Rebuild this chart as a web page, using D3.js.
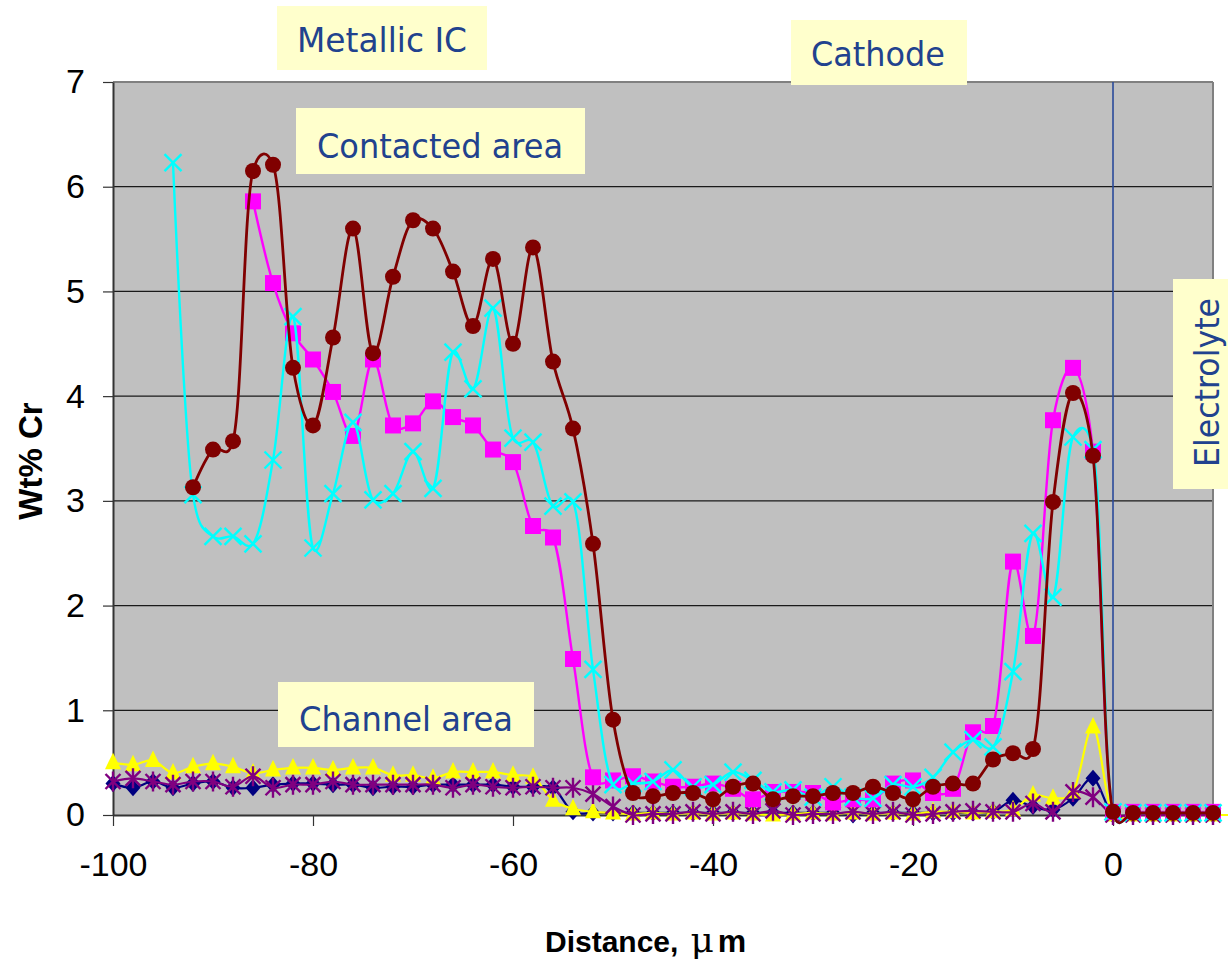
<!DOCTYPE html>
<html>
<head>
<meta charset="utf-8">
<script src="https://cdn.jsdelivr.net/npm/d3@7"></script>
<style>
  body { margin: 0; background: #fff; }
  svg { display: block; }
</style>
</head>
<body>
<svg id="chart" width="1228" height="965"></svg>
<script>
// distance in micrometres, one sample every 2 um
const distance = [-100, -98, -96, -94, -92, -90, -88, -86, -84, -82, -80, -78, -76, -74, -72, -70,
  -68, -66, -64, -62, -60, -58, -56, -54, -52, -50, -48, -46, -44, -42, -40, -38, -36, -34, -32,
  -30, -28, -26, -24, -22, -20, -18, -16, -14, -12, -10, -8, -6, -4, -2, 0, 2, 4, 6, 8, 10, 12];

// channel area series
const navy = [0.30, 0.26, 0.32, 0.26, 0.30, 0.32, 0.26, 0.26, 0.29, 0.30, 0.30, 0.29, 0.29, 0.26, 0.27, 0.27,
  0.29, 0.29, 0.29, 0.29, 0.27, 0.27, 0.26, 0.03, 0.02, 0.02, 0.02, 0.02, 0.02, 0.02, 0.02, 0.02, 0.02, 0.02, 0.02,
  0.02, 0.02, 0.00, 0.02, 0.02, 0.02, 0.02, 0.02, 0.02, 0.03, 0.14, 0.08, 0.05, 0.16, 0.35, 0.00, 0.00, 0.00, 0.00, 0.00, 0.00, null];
const yellow = [0.50, 0.48, 0.52, 0.40, 0.46, 0.49, 0.46, 0.40, 0.43, 0.45, 0.45, 0.43, 0.45, 0.45, 0.38, 0.38,
  0.35, 0.41, 0.41, 0.41, 0.38, 0.36, 0.14, 0.06, 0.03, 0.02, 0.01, 0.02, 0.01, 0.02, 0.01, 0.02, 0.01, 0.00, 0.01,
  0.02, 0.01, 0.02, 0.01, 0.02, 0.01, 0.03, 0.03, 0.02, 0.03, 0.05, 0.19, 0.16, 0.22, 0.84, 0.00, 0.00, 0.00, 0.00, 0.00, 0.00, 0.00];
const purple = [0.32, 0.35, 0.32, 0.29, 0.32, 0.32, 0.27, 0.37, 0.26, 0.29, 0.29, 0.32, 0.29, 0.29, 0.29, 0.29,
  0.29, 0.26, 0.29, 0.27, 0.26, 0.27, 0.26, 0.26, 0.20, 0.08, 0.00, 0.01, 0.01, 0.03, 0.01, 0.03, 0.01, 0.04, 0.00,
  0.01, 0.01, 0.03, 0.01, 0.03, 0.00, 0.01, 0.03, 0.04, 0.03, 0.03, 0.11, 0.03, 0.22, 0.17, 0.00, 0.00, 0.00, 0.00, 0.00, 0.00, null];

// contacted area series
const magenta = [null, null, null, null, null, null, null, 5.86, 5.08, 4.60, 4.35, 4.04, 3.62, 4.35, 3.72, 3.74,
  3.95, 3.80, 3.72, 3.49, 3.37, 2.76, 2.65, 1.49, 0.36, 0.33, 0.37, 0.32, 0.27, 0.27, 0.30, 0.25, 0.15, 0.22, 0.22,
  0.21, 0.12, 0.15, 0.15, 0.30, 0.33, 0.21, 0.25, 0.79, 0.85, 2.42, 1.71, 3.77, 4.27, 3.47, 0.03, 0.03, 0.03, 0.03, 0.03, 0.03, null];
const cyan = [null, null, null, 6.23, 3.06, 2.66, 2.66, 2.59, 3.39, 4.76, 2.55, 3.07, 3.75, 3.01, 3.07, 3.47,
  3.12, 4.42, 4.07, 4.84, 3.60, 3.56, 2.95, 2.99, 1.39, 0.29, 0.30, 0.32, 0.43, 0.27, 0.29, 0.41, 0.33, 0.22, 0.24,
  0.17, 0.27, 0.17, 0.16, 0.29, 0.27, 0.36, 0.60, 0.72, 0.65, 1.37, 2.69, 2.08, 3.61, 3.49, 0.03, 0.02, 0.02, 0.02, 0.02, 0.02, null];
const maroon = [null, null, null, null, 3.13, 3.49, 3.57, 6.15, 6.21, 4.27, 3.72, 4.56, 5.60, 4.41, 5.14, 5.68,
  5.60, 5.19, 4.67, 5.31, 4.50, 5.42, 4.33, 3.69, 2.59, 0.91, 0.21, 0.18, 0.21, 0.21, 0.15, 0.27, 0.30, 0.15, 0.18,
  0.18, 0.21, 0.21, 0.27, 0.21, 0.15, 0.27, 0.30, 0.30, 0.53, 0.59, 0.63, 2.99, 4.03, 3.43, 0.03, 0.02, 0.02, 0.02, 0.02, 0.02, null];

const xTicks = [-100, -80, -60, -40, -20, 0];
const yTicks = [0, 1, 2, 3, 4, 5, 6, 7];

const svg = d3.select("#chart");
const margin = { top: 82, right: 15, bottom: 150, left: 113 };
const width = 1228 - margin.left - margin.right;
const height = 965 - margin.top - margin.bottom;

const x = d3.scaleLinear().domain([-100, 10]).range([0, width]);
const y = d3.scaleLinear().domain([0, 7]).range([height, 0]);

const g = svg.append("g").attr("transform", `translate(${margin.left},${margin.top})`);

// plot area
g.append("rect").attr("width", width).attr("height", height).attr("fill", "#c0c0c0");

// gridlines
g.append("g").selectAll("line").data(yTicks.filter(d => d > 0 && d < 7)).join("line")
  .attr("x1", 0).attr("x2", width)
  .attr("y1", d => y(d)).attr("y2", d => y(d))
  .attr("stroke", "#1a1a1a").attr("stroke-width", 1.2);

// border top / right
g.append("line").attr("x1", 0).attr("x2", width).attr("y1", 0).attr("y2", 0)
  .attr("stroke", "#808080").attr("stroke-width", 2);
g.append("line").attr("x1", width).attr("x2", width).attr("y1", 0).attr("y2", height)
  .attr("stroke", "#808080").attr("stroke-width", 2);

// interface line at 0
g.append("line").attr("x1", x(0)).attr("x2", x(0)).attr("y1", 0).attr("y2", height)
  .attr("stroke", "#2a4a9a").attr("stroke-width", 1.6);

// axes
const xAxis = g.append("g").attr("transform", `translate(0,${height})`)
  .call(d3.axisBottom(x).tickValues(xTicks).tickSize(11).tickPadding(26).tickSizeOuter(0).tickFormat(d => String(d)));
const yAxis = g.append("g")
  .call(d3.axisLeft(y).tickValues(yTicks).tickSize(10).tickPadding(18).tickSizeOuter(0).tickFormat(d3.format("d")));
[xAxis, yAxis].forEach(a => {
  a.select(".domain").attr("stroke", "#333").attr("stroke-width", 2);
  a.selectAll(".tick line").attr("stroke", "#333").attr("stroke-width", 1.2);
  a.selectAll("text").attr("font-family", "Liberation Sans, Arial, sans-serif")
    .attr("font-size", 34).attr("fill", "#000");
});

// series
const rows = distance.map((d, i) => ({ d, navy: navy[i], yellow: yellow[i], purple: purple[i],
  magenta: magenta[i], cyan: cyan[i], maroon: maroon[i] }));

const series = [
  { key: "navy", color: "#000080", marker: "diamond", lw: 2.2 },
  { key: "yellow", color: "#ffff00", marker: "triangle", lw: 2.2 },
  { key: "purple", color: "#800080", marker: "asterisk", lw: 2.2 },
  { key: "magenta", color: "#ff00ff", marker: "square", lw: 2.4 },
  { key: "cyan", color: "#00ffff", marker: "x", lw: 2.4 },
  { key: "maroon", color: "#800000", marker: "circle", lw: 2.8 }
];

function markerPath(type) {
  const p = d3.path();
  if (type === "diamond") { p.moveTo(0, -8.5); p.lineTo(7.5, 0); p.lineTo(0, 8.5); p.lineTo(-7.5, 0); p.closePath(); }
  if (type === "triangle") { p.moveTo(0, -10); p.lineTo(8, 6.5); p.lineTo(-8, 6.5); p.closePath(); }
  if (type === "square") { p.rect(-8, -8, 16, 16); }
  if (type === "x") { p.moveTo(-8.5, -8.5); p.lineTo(8.5, 8.5); p.moveTo(8.5, -8.5); p.lineTo(-8.5, 8.5); }
  if (type === "asterisk") {
    p.moveTo(-7.5, -7.5); p.lineTo(7.5, 7.5); p.moveTo(7.5, -7.5); p.lineTo(-7.5, 7.5);
    p.moveTo(0, -10); p.lineTo(0, 10);
  }
  return p.toString();
}

const line = d3.line().curve(d3.curveCatmullRom.alpha(0.2));

series.forEach(s => {
  const pts = rows.filter(r => r[s.key] != null);
  g.append("path")
    .attr("d", line(pts.map(r => [x(r.d), y(r[s.key])])))
    .attr("fill", "none").attr("stroke", s.color).attr("stroke-width", s.lw);

  const m = g.append("g").selectAll("g").data(pts.filter(r => r.d <= 10)).join("g")
    .attr("transform", r => `translate(${x(r.d)},${y(r[s.key])})`);
  if (s.marker === "circle") {
    m.append("circle").attr("r", 8).attr("fill", s.color);
  } else if (s.marker === "x" || s.marker === "asterisk") {
    m.append("path").attr("d", markerPath(s.marker)).attr("fill", "none")
      .attr("stroke", s.color).attr("stroke-width", 2.4);
  } else {
    m.append("path").attr("d", markerPath(s.marker)).attr("fill", s.color);
  }
});

// axis titles
svg.append("text")
  .attr("transform", "translate(42,461) rotate(-90)")
  .attr("text-anchor", "middle")
  .attr("font-family", "Liberation Sans, Arial, sans-serif").attr("font-weight", "bold")
  .attr("font-size", 33).text("Wt% Cr");

const xt = svg.append("text").attr("x", 545).attr("y", 952)
  .attr("font-family", "Liberation Sans, Arial, sans-serif").attr("font-size", 30);
xt.append("tspan").attr("font-weight", "bold").text("Distance,");
xt.append("tspan").attr("dx", 12).attr("font-size", 36).attr("font-family", "DejaVu Serif, serif").text("μ");
xt.append("tspan").attr("font-weight", "bold").attr("font-size", 32).attr("dx", 4).text("m");

// annotation boxes
const notes = [
  { text: "Metallic IC", box: [277, 6, 210, 64], tx: 297, ty: 52, len: 170, rot: false },
  { text: "Cathode", box: [791, 20, 176, 65], tx: 811, ty: 66, len: 134, rot: false },
  { text: "Contacted area", box: [296, 108, 289, 66], tx: 317, ty: 158, len: 246, rot: false },
  { text: "Channel area", box: [278, 682, 256, 65], tx: 299, ty: 731, len: 214, rot: false },
  { text: "Electrolyte", box: [1173, 279, 60, 210], tx: 1219, ty: 467, len: 169, rot: true }
];
notes.forEach(n => {
  svg.append("rect").attr("x", n.box[0]).attr("y", n.box[1])
    .attr("width", n.box[2]).attr("height", n.box[3]).attr("fill", "#ffffcc");
  const t = svg.append("text")
    .attr("font-family", "DejaVu Sans, Verdana, sans-serif").attr("font-size", 33)
    .attr("fill", "#21428e")
    .attr("textLength", n.len).attr("lengthAdjust", "spacingAndGlyphs")
    .text(n.text);
  if (n.rot) t.attr("transform", `translate(${n.tx},${n.ty}) rotate(-90)`);
  else t.attr("x", n.tx).attr("y", n.ty);
});
</script>
</body>
</html>
